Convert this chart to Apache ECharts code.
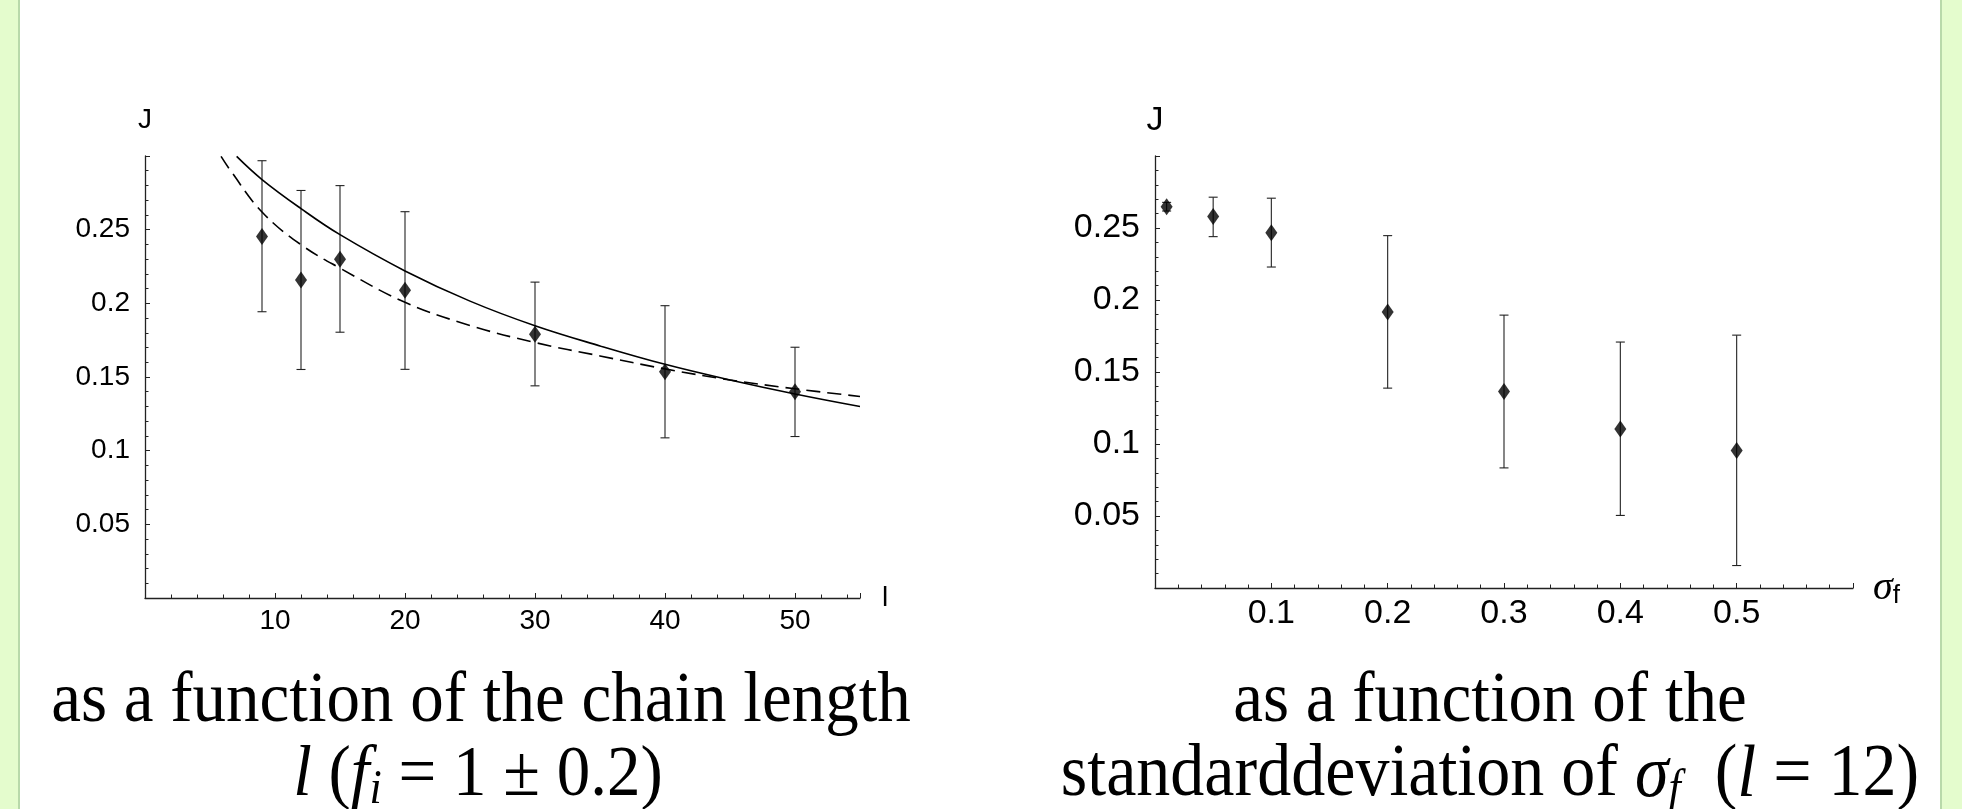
<!DOCTYPE html>
<html>
<head>
<meta charset="utf-8">
<script src="https://cdn.jsdelivr.net/npm/echarts@6/dist/echarts.min.js"></script>
<style>
html, body { margin: 0; padding: 0; background: #fff; }
#chart { width: 1962px; height: 809px; }
</style>
</head>
<body>
<div id="chart"></div>
<script>
// left panel: J against chain length l
const lenX  = [9, 12, 15, 20, 30, 40, 50];
const lenJ  = [0.2454, 0.2158, 0.2300, 0.2088, 0.1791, 0.1535, 0.1400];
const lenHi = [0.2968, 0.2766, 0.2799, 0.2622, 0.2144, 0.1984, 0.1702];
const lenLo = [0.1943, 0.1551, 0.1804, 0.1552, 0.1440, 0.1087, 0.1096];

// the two theory curves
const solidX  = [7.05, 9, 12, 15, 20, 25, 30, 35, 40, 45, 50, 55];
const solidY  = [0.2997, 0.2840, 0.2643, 0.2466, 0.2220, 0.2015, 0.1848, 0.1711, 0.1586, 0.1480, 0.1385, 0.1300];
const dashedX = [5.85, 6.54, 9, 12, 15, 20, 25, 30, 35, 40, 45, 50, 55];
const dashedY = [0.2997, 0.2906, 0.2620, 0.2398, 0.2239, 0.2007, 0.1850, 0.1734, 0.1643, 0.1555, 0.1480, 0.1420, 0.1368];

// right panel: J against sigma_f (l = 12)
const sigX  = [0.01, 0.05, 0.1, 0.2, 0.3, 0.4, 0.5];
const sigJ  = [0.2647, 0.2579, 0.2467, 0.1917, 0.1364, 0.1105, 0.0954];
const sigHi = [0.2678, 0.2714, 0.2707, 0.2447, 0.1895, 0.1708, 0.1756];
const sigLo = [0.2618, 0.2440, 0.2229, 0.1388, 0.0834, 0.0504, 0.0156];

// tick labels
const lenTicks = [10, 20, 30, 40, 50];
const jTicks   = [0.05, 0.1, 0.15, 0.2, 0.25];
const sigTicks = [0.1, 0.2, 0.3, 0.4, 0.5];

const zip = (a, b) => a.map((v, i) => [v, b[i]]);
const axisColor = '#222';
const sans = 'Liberation Sans';
const serif = 'Liberation Serif';

function tickFmt(list) {
  return function (v) {
    const r = +v.toFixed(3);
    return list.indexOf(r) >= 0 ? String(r) : '';
  };
}

function valueAxis(idx, min, max, step, ticks, size, extra) {
  return Object.assign({
    type: 'value', gridIndex: idx, min: min, max: max, interval: step,
    nameLocation: 'end',
    nameTextStyle: { fontFamily: sans, fontSize: size, color: '#000' },
    axisLine: { show: true, onZero: false, lineStyle: { color: axisColor, width: 1.3 } },
    axisTick: { show: true, inside: true, length: 5, lineStyle: { color: axisColor, width: 1 } },
    minorTick: { show: true, splitNumber: 5, length: 3.5, lineStyle: { color: axisColor, width: 1 } },
    axisLabel: { fontFamily: sans, fontSize: size, color: '#000', formatter: tickFmt(ticks) },
    splitLine: { show: false },
    minorSplitLine: { show: false }
  }, extra);
}

function errorBars(xs, lo, hi, xi) {
  return {
    type: 'custom', xAxisIndex: xi, yAxisIndex: xi, z: 2,
    data: xs.map((x, i) => [x, lo[i], hi[i]]),
    encode: { x: 0, y: [1, 2] },
    renderItem: function (params, api) {
      const top = api.coord([api.value(0), api.value(2)]);
      const bot = api.coord([api.value(0), api.value(1)]);
      const w = 4.5;
      const st = { stroke: '#222', lineWidth: 1.1 };
      return {
        type: 'group', children: [
          { type: 'line', shape: { x1: top[0], y1: top[1], x2: bot[0], y2: bot[1] }, style: st },
          { type: 'line', shape: { x1: top[0] - w, y1: top[1], x2: top[0] + w, y2: top[1] }, style: st },
          { type: 'line', shape: { x1: bot[0] - w, y1: bot[1], x2: bot[0] + w, y2: bot[1] }, style: st }
        ]
      };
    }
  };
}

const chart = echarts.init(document.getElementById('chart'));

const option = {
  animation: false,
  backgroundColor: '#fff',
  grid: [
    { left: 145, top: 156, width: 715, height: 442, outerBoundsMode: 'none' },
    { left: 1155, top: 156, width: 698, height: 432, outerBoundsMode: 'none' }
  ],
  xAxis: [
    valueAxis(0, 0, 55, 10, lenTicks, 28, { name: 'l', nameGap: 22, axisLabel: { fontFamily: sans, fontSize: 28, color: '#000', margin: 9, formatter: tickFmt(lenTicks) } }),
    valueAxis(1, 0, 0.6, 0.1, sigTicks, 34, {
      name: '{s|σ}{f|f}', nameGap: 20,
      nameTextStyle: {
        color: '#000',
        rich: {
          s: { fontFamily: serif, fontStyle: 'italic', fontSize: 40, color: '#000' },
          f: { fontFamily: sans, fontSize: 26, color: '#000', padding: [16, 0, 0, 0] }
        }
      },
      axisLabel: { fontFamily: sans, fontSize: 34, color: '#000', margin: 9, formatter: tickFmt(sigTicks) }
    })
  ],
  yAxis: [
    valueAxis(0, 0, 0.3, 0.05, jTicks, 28, { name: 'J', nameGap: 22, axisLabel: { fontFamily: sans, fontSize: 28, color: '#000', margin: 15, formatter: tickFmt(jTicks) } }),
    valueAxis(1, 0, 0.3, 0.05, jTicks, 34, { name: 'J', nameGap: 18, axisLabel: { fontFamily: sans, fontSize: 34, color: '#000', margin: 15, formatter: tickFmt(jTicks) } })
  ],
  series: [
    {
      type: 'line', xAxisIndex: 0, yAxisIndex: 0, data: zip(solidX, solidY),
      showSymbol: false, smooth: 0.4,
      lineStyle: { color: '#000', width: 1.6 }
    },
    {
      type: 'line', xAxisIndex: 0, yAxisIndex: 0, data: zip(dashedX, dashedY),
      showSymbol: false, smooth: 0.4,
      lineStyle: { color: '#000', width: 1.6, type: [14, 7] }
    },
    errorBars(lenX, lenLo, lenHi, 0),
    {
      type: 'scatter', xAxisIndex: 0, yAxisIndex: 0, data: zip(lenX, lenJ), z: 3,
      symbol: 'diamond', symbolSize: [12, 17], itemStyle: { color: '#000' }
    },
    errorBars(sigX, sigLo, sigHi, 1),
    {
      type: 'scatter', xAxisIndex: 1, yAxisIndex: 1, data: zip(sigX, sigJ), z: 3,
      symbol: 'diamond', symbolSize: [12, 17], itemStyle: { color: '#000' }
    }
  ],
  graphic: [
    { type: 'rect', shape: { x: 0, y: 0, width: 18, height: 809 }, style: { fill: '#e4fccd' }, silent: true },
    { type: 'rect', shape: { x: 18, y: 0, width: 2, height: 809 }, style: { fill: '#b8d9aa' }, silent: true },
    { type: 'rect', shape: { x: 1942, y: 0, width: 20, height: 809 }, style: { fill: '#e4fccd' }, silent: true },
    { type: 'rect', shape: { x: 1940, y: 0, width: 2, height: 809 }, style: { fill: '#b8d9aa' }, silent: true },
    {
      type: 'text', x: 481, y: 738, scaleY: 1.08, silent: true,
      style: { text: 'as a function of the chain length', fontFamily: serif, fontSize: 67, fill: '#000', align: 'center', verticalAlign: 'bottom' }
    },
    {
      type: 'text', x: 478, y: 814, scaleY: 1.08, silent: true,
      style: {
        text: '{i|l} ({i|f}{s|i} = 1 ± 0.2)', fontFamily: serif, fontSize: 67, fill: '#000', align: 'center', verticalAlign: 'bottom',
        rich: {
          i: { fontFamily: serif, fontStyle: 'italic', fontSize: 67 },
          s: { fontFamily: serif, fontStyle: 'italic', fontSize: 44, padding: [26, 0, 0, 0] }
        }
      }
    },
    {
      type: 'text', x: 1490, y: 738, scaleY: 1.08, silent: true,
      style: { text: 'as a function of the', fontFamily: serif, fontSize: 67, fill: '#000', align: 'center', verticalAlign: 'bottom' }
    },
    {
      type: 'text', x: 1490, y: 814, scaleY: 1.08, silent: true,
      style: {
        text: 'standarddeviation of {i|σ}{s|f}  ({i|l} = 12)', fontFamily: serif, fontSize: 68, fill: '#000', align: 'center', verticalAlign: 'bottom',
        rich: {
          i: { fontFamily: serif, fontStyle: 'italic', fontSize: 68 },
          s: { fontFamily: serif, fontStyle: 'italic', fontSize: 44, padding: [26, 0, 0, 0] }
        }
      }
    }
  ]
};

chart.setOption(option);
</script>
</body>
</html>
